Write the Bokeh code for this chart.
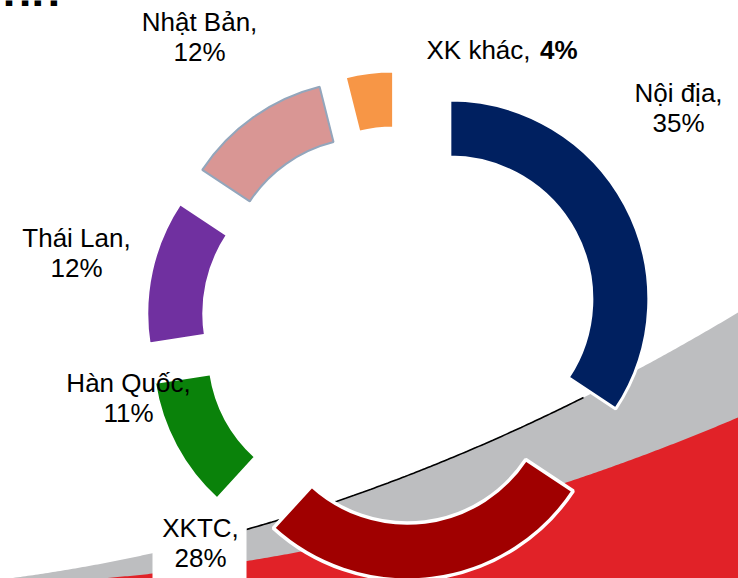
import numpy as np
from bokeh.plotting import figure
from bokeh.models import Range1d, ColumnDataSource
from bokeh.embed import file_html
from bokeh.resources import INLINE
from bokeh.core.properties import value

# ---- data ----
categories = ["Nội địa", "XKTC", "Hàn Quốc", "Thái Lan", "Nhật Bản", "XK khác"]
shares = [35, 28, 11, 12, 12, 4]

# ---- styles ----
colors = ["#002060", "#A00000", "#0A820A", "#7030A0", "#D99694", "#F79646"]
borders = ["white", "white", "white", "white", "#93A6BC", "white"]
border_w = [3, 3.5, 3, 3, 2, 3]

# ---- layout (page pixel coords) ----
IMG_W, IMG_H = 738, 578
CENTER = (400, 325)
R_OUT, R_IN, EXPLODE = 199, 142, 56
# label anchor: centre x, baseline of first line
label_xy = [(678, 103), (200, 538), (128, 393), (76, 248), (199, 32), (426, 60)]
FONT = value("Liberation Sans")
FS_PX = 26
FS = f"{FS_PX}px"
TXT_SHIFT = 0.4  # em, renderer baseline correction


def Y(yi):
    return IMG_H - yi


p = figure(width=IMG_W, height=IMG_H, x_range=Range1d(0, IMG_W), y_range=Range1d(0, IMG_H),
           output_backend="svg", toolbar_location=None, min_border=0)
p.axis.visible = False
p.grid.visible = False
p.outline_line_color = None
p.background_fill_color = "white"
p.border_fill_color = "white"

# ---- decorative background swooshes ----
gx = [10, 250, 512, 643, 738]
gy = [577, 530, 428, 367, 312]
rx = [150, 247, 530, 620, 707, 738]
ry = [576, 556, 497, 462, 430, 416]
gcoef = np.polyfit(gx, gy, 2)
rcoef = np.polyfit(rx, ry, 2)
xs = np.linspace(0, 745, 300)
g_top = np.polyval(gcoef, xs)
r_top = np.polyval(rcoef, xs)
p.patch(list(xs) + [745, 0], [Y(v) for v in g_top] + [Y(600), Y(600)],
        fill_color="#BDBEC0", line_color=None)
p.patch(list(xs) + [745, 0], [Y(v) for v in r_top] + [Y(600), Y(600)],
        fill_color="#E12228", line_color=None)
bx = np.linspace(246, 583, 120)
p.line(bx, [Y(v) for v in np.polyval(gcoef, bx)], line_color="black", line_width=1.6)

# white box behind XKTC label
p.quad(left=152, right=246, bottom=Y(580), top=Y(517), fill_color="white", line_color=None)

# cut-off slide title fragment at top-left
p.text(x=[2], y=[Y(8 - 0.4 * 47)], text=["nh"], text_font=FONT, text_font_size="47px",
       text_font_style="bold", text_align="left", text_baseline="alphabetic",
       text_color="black")

# ---- exploded doughnut ----
total = float(sum(shares))
cum = np.concatenate([[0], np.cumsum(shares)])
t1 = 360.0 * cum[:-1] / total
t2 = 360.0 * cum[1:] / total
mid = np.radians((t1 + t2) / 2)
cx = CENTER[0] + EXPLODE * np.sin(mid)
cy = Y(CENTER[1]) + EXPLODE * np.cos(mid)
src = ColumnDataSource(dict(x=cx, y=cy, sa=np.radians(90 - t2), ea=np.radians(90 - t1),
                            fill=colors, line=borders, lw=border_w))
p.annular_wedge(x="x", y="y", inner_radius=R_IN, outer_radius=R_OUT,
                start_angle="sa", end_angle="ea", fill_color="fill",
                line_color="line", line_width="lw", source=src)

# ---- labels ----
sh = TXT_SHIFT * FS_PX
for i, (cat, val) in enumerate(zip(categories, shares)):
    lx, ly = label_xy[i]
    ly = ly - sh
    if i == len(categories) - 1:
        p.text(x=[lx], y=[Y(ly)], text=[f"{cat},"], text_font=FONT, text_font_size=FS,
               text_align="left", text_baseline="alphabetic", text_color="black")
        p.text(x=[577], y=[Y(ly)], text=[f"{val}%"], text_font=FONT, text_font_size=FS,
               text_font_style="bold", text_align="right", text_baseline="alphabetic",
               text_color="black")
    else:
        p.text(x=[lx, lx], y=[Y(ly), Y(ly + 30)], text=[f"{cat},", f"{val}%"],
               text_font=FONT, text_font_size=FS, text_align="center",
               text_baseline="alphabetic", text_color="black")

open("out.html", "w").write(file_html(p, INLINE))
